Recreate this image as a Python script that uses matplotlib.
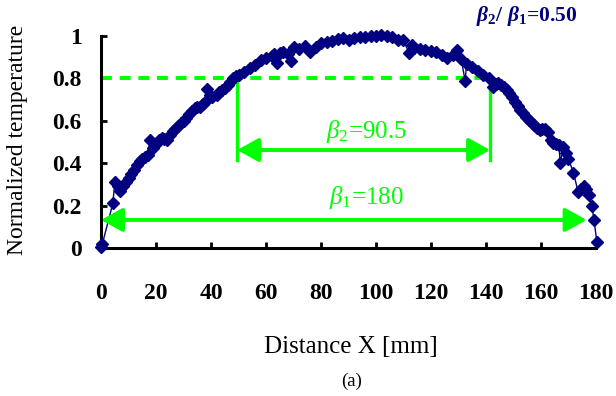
import numpy as np
import matplotlib
matplotlib.use("Agg")
import matplotlib.pyplot as plt

plt.rcParams['font.family'] = ['Liberation Serif', 'DejaVu Serif']
plt.rcParams['mathtext.fontset'] = 'custom'
plt.rcParams['mathtext.rm'] = 'Liberation Serif'
plt.rcParams['mathtext.it'] = 'Liberation Serif:italic'
plt.rcParams['mathtext.bf'] = 'Liberation Serif:bold'
plt.rcParams['mathtext.bfit'] = 'Liberation Serif:italic:bold'

dist = [0, 0.5, 4.3, 5, 6, 7, 8, 9, 10, 11, 12, 13, 14, 15, 16, 17, 17.8, 19,
        20, 21, 22, 23, 24, 25, 26, 27, 28, 29, 30, 31, 32, 33, 34, 35, 36, 37,
        38, 38.6, 39.5, 40.5, 42, 43, 44, 45, 46, 47, 48, 49, 50, 52, 54, 56,
        58, 60, 62, 63, 64, 65, 66, 68, 69, 70, 72, 74, 76, 78, 80, 82, 84, 86,
        88, 90, 92, 94, 96, 98, 100, 102, 104, 106, 108, 110, 112, 113, 114,
        116, 118, 120, 122, 124, 126, 128, 129.5, 131, 132.4, 133, 135, 137,
        139, 141, 142.5, 143.5, 144.5, 145.5, 146.5, 147.5, 148.5, 149.5, 150.5,
        151.5, 152.5, 153.5, 154.5, 155.5, 156.5, 157.5, 158.5, 159.5, 160.5,
        161.5, 162.5, 163.5, 164.5, 165.5, 166.5, 167, 168, 169, 170, 171.8,
        173.5, 174.5, 175.5, 176.5, 177.3, 178.5, 179.3, 180.3]
temp = [0.005, 0.02, 0.21, 0.31, 0.29, 0.27, 0.29, 0.31, 0.33, 0.35, 0.37, 0.39,
        0.41, 0.42, 0.43, 0.44, 0.51, 0.47, 0.49, 0.51, 0.52, 0.515, 0.51, 0.535,
        0.55, 0.56, 0.575, 0.59, 0.60, 0.615, 0.63, 0.645, 0.66, 0.665, 0.665,
        0.68, 0.695, 0.75, 0.72, 0.71, 0.72, 0.735, 0.745, 0.755, 0.77, 0.785,
        0.80, 0.81, 0.815, 0.83, 0.85, 0.865, 0.885, 0.895, 0.905, 0.915, 0.875,
        0.92, 0.925, 0.915, 0.88, 0.95, 0.94, 0.955, 0.925, 0.95, 0.965, 0.97,
        0.975, 0.985, 0.99, 0.98, 0.99, 0.995, 0.995, 1.0, 1.0, 1.005, 1.0,
        0.995, 0.98, 0.98, 0.92, 0.96, 0.945, 0.94, 0.935, 0.93, 0.925, 0.91,
        0.895, 0.91, 0.935, 0.89, 0.79, 0.87, 0.855, 0.835, 0.815, 0.80, 0.76,
        0.775, 0.78, 0.77, 0.76, 0.745, 0.73, 0.71, 0.69, 0.67, 0.65, 0.635,
        0.62, 0.605, 0.595, 0.58, 0.565, 0.555, 0.56, 0.56, 0.545, 0.51, 0.495,
        0.49, 0.485, 0.40, 0.475, 0.45, 0.42, 0.355, 0.265, 0.28, 0.29, 0.28,
        0.25, 0.20, 0.13, 0.03]

level = 0.8
beta2_x = [49.5, 141.5]
beta1_x = [0, 176.6]
beta2_txt = r'$\beta_{2}$=90.5'
beta1_txt = r'$\beta_{1}$=180'
ratio_txt = r'$\boldsymbol{\beta}_{\mathbf{2}}$/ $\boldsymbol{\beta}_{\mathbf{1}}$=0.50'

navy = '#000080'
green = '#00FF00'

fig = plt.figure(figsize=(6.16, 3.96), dpi=100)
ax = fig.add_axes([0.164, 0.374, 0.8035, 0.535])

ax.plot(dist, temp, color=navy, lw=1, marker='D', ms=6, mec=navy, mfc=navy,
        clip_on=False, zorder=3)

# beta markers
ax.plot([0, beta2_x[1]], [level, level], color=green, lw=2.8, ls=(0, (2.8, 2.0)), zorder=2)
for xv in beta2_x:
    ax.plot([xv, xv], [level, 0.415], color=green, lw=2.4, zorder=2)
arr = dict(arrowstyle='<|-|>,head_length=0.65,head_width=0.36', color=green, lw=2.8,
           mutation_scale=20, shrinkA=0, shrinkB=0)
ax.annotate('', xy=(beta2_x[0], 0.462), xytext=(beta2_x[1], 0.462), arrowprops=arr)
ax.annotate('', xy=(beta1_x[0], 0.132), xytext=(beta1_x[1], 0.132), arrowprops=arr)
ax.text(96.7, 0.55, beta2_txt, color=green, fontsize=18, ha='center', va='center')
ax.text(96.4, 0.24, beta1_txt, color=green, fontsize=18, ha='center', va='center')
ax.text(0.86, 1.094, ratio_txt, color=navy, fontsize=15.5, fontweight='bold',
        ha='center', va='center', transform=ax.transAxes)

ax.set_xlim(0, 180)
ax.set_ylim(0, 1)
ax.set_xticks(np.arange(0, 181, 20))
ax.set_yticks([0, 0.2, 0.4, 0.6, 0.8, 1])
ax.set_yticklabels(['0', '0.2', '0.4', '0.6', '0.8', '1'])
for s in ['top', 'right']:
    ax.spines[s].set_visible(False)
for s in ['left', 'bottom']:
    ax.spines[s].set_linewidth(2.2)
ax.tick_params(axis='both', direction='in', length=4.5, width=2, labelsize=17)
ax.tick_params(axis='x', pad=25)
ax.tick_params(axis='y', pad=14)
for lab in ax.get_xticklabels() + ax.get_yticklabels():
    lab.set_fontweight('bold')

ax.set_xlabel('Distance X [mm]', fontsize=18)
ax.xaxis.set_label_coords(0.505, -0.415)
ax.set_ylabel('Normalized temperature', fontsize=17)
ax.yaxis.set_label_coords(-0.147, 0.51)

fig.text(0.571, 0.038, '(a)', fontsize=13.5, ha='center', va='center')

fig.savefig('out.png', dpi=100)
